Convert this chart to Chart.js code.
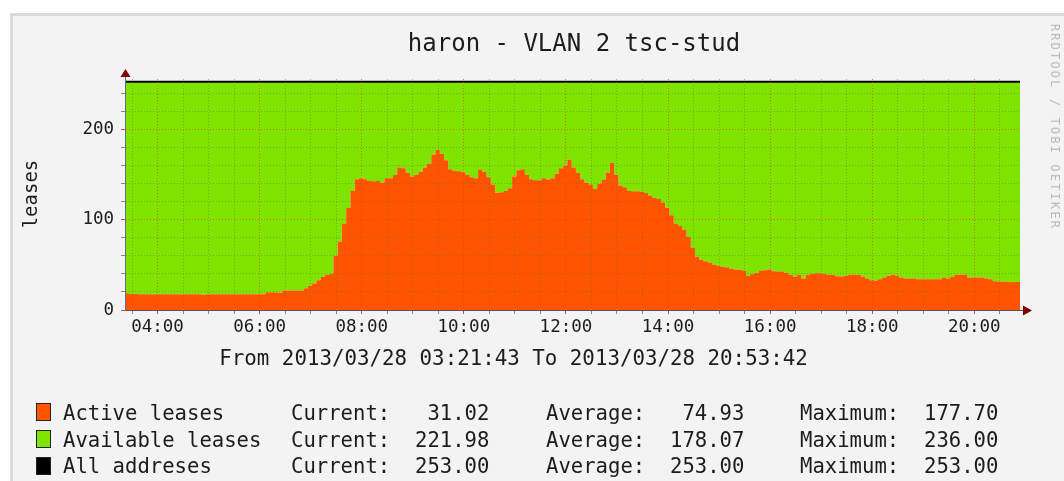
<!DOCTYPE html>
<html>
<head>
<meta charset="utf-8">
<script src="https://cdn.jsdelivr.net/npm/chart.js@4.4.1/dist/chart.umd.min.js"></script>
<style>
html,body{margin:0;padding:0;background:#fff;width:1064px;height:481px;overflow:hidden;}
body{font-family:'DejaVu Sans Mono',monospace;color:#1c1c1c;position:relative;}
#frame{position:absolute;left:10px;top:13px;width:1100px;height:540px;border:3px solid #dadada;background:#f3f3f3;}
#c{position:absolute;left:0;top:0;}
.t{position:absolute;white-space:pre;line-height:1;}
.sq{position:absolute;left:36px;width:13px;height:16px;border:1.5px solid #222;}
</style>
</head>
<body>
<div id="frame"></div>
<canvas id="c" width="1064" height="481"></canvas>
<div class="t" style="font-size:24px;left:574px;top:30.7px;transform:translateX(-50%);">haron - VLAN 2 tsc-stud</div>
<div class="t" style="font-size:19px;left:30px;top:194px;transform:translate(-50%,-50%) rotate(-90deg);">leases</div>
<div class="t" style="font-size:20.8px;left:513.5px;top:348px;transform:translateX(-50%);">From 2013/03/28 03:21:43 To 2013/03/28 20:53:42</div>
<div class="t" style="font-size:12px;letter-spacing:2.15px;color:#b9b9b9;left:1055px;top:127px;transform:translate(-50%,-50%) rotate(90deg);">RRDTOOL / TOBI OETIKER</div>
<div id="legend"></div>
<script>
// ---- data ----
const startTime = '03:21:43';
const endTime = '20:53:42';
const stepMinutes = 5;
const activeLeases = [
  18.6,
  17.6,17.6,17.5,17.5,17.5,17.5,17.5,17.5,17.5,17.5,
  17.5,17.5,17.5,17.5,17.5,17.5,17.5,17.0,17.5,17.5,
  17.5,17.5,17.5,17.5,17.5,17.5,17.5,17.5,17.5,17.5,
  17.5,17.5,
  19.6,19.6,19.6,19.0,21.5,21.5,21.5,21.5,21.5,24,
  27,29.5,33,36.5,39,40,60,76,96,113,
  132,145,146,145,143,142.6,143,141,146,146,
  150,158,157,152,148,150,153,158,162,172,
  177.7,173,166,156,154,153.7,152.6,150,147,146,
  155.6,153,147,139,130,130.5,132,135,148,155,
  156,150,145,143.7,143.7,146,144.5,146,151,157,
  160,166.7,158,152,145,141,139,134,140,144,
  152,163,150,138,136,132,131.5,131.5,131,129.6,
  127,124,123,119,113,105,96,93,89,81,
  69,59,55.6,54,52.6,50.5,49,48,47.5,46,
  45,44.5,43.7,38,40,41,43.7,44,45,43,
  42.6,42.6,41,39,37,39,35,39,40,40.7,
  40.7,40,39,39,37.5,37,38,39,39,39,
  37,35,33,32.6,34,36,38,39,38,36,
  35,35,35,34,34,34,34,34,34,36,
  35,37,39,39,39,36,36,36,36,35,
  34,32,31.5,31.5,31,31,31,31.02
];
const allAddresses = 253;
const yMajorTicks = [0, 100, 200];
const yMinorStep = 20;
const xMajorTickLabels = ['04:00','06:00','08:00','10:00','12:00','14:00','16:00','18:00','20:00'];
const xMinorStepMinutes = 30;

const legendNames = ['Active leases', 'Available leases', 'All addreses'];
const legendCurrent = ['31.02', '221.98', '253.00'];
const legendAverage = ['74.93', '178.07', '253.00'];
const legendMaximum = ['177.70', '236.00', '253.00'];

// ---- styles ----
const ORANGE = '#FF5500';
const GREEN = '#7FE500';
const legendColors = [ORANGE, GREEN, '#000000'];
const MONO = "'DejaVu Sans Mono', monospace";

function toMin(s){ const p = s.split(':').map(Number); return p[0]*60 + p[1] + (p[2]||0)/60; }

const t0 = toMin(startTime), t1 = toMin(endTime);
const activePts = activeLeases.map((v,i)=>({x: t0 + i*stepMinutes, y: v}));
activePts.push({x: t1, y: activeLeases[activeLeases.length-1]});
const allPts = activePts.map(p=>({x: p.x, y: allAddresses}));

const xMajorMin = xMajorTickLabels.map(toMin);
const xTicks = [];
for (let m = Math.ceil(t0/xMinorStepMinutes)*xMinorStepMinutes; m < t1; m += xMinorStepMinutes) xTicks.push({value: m});
const yTicks = [];
for (let v = 0; v <= 240; v += yMinorStep) yTicks.push({value: v});

const MAJOR = 'rgba(255,40,40,0.6)';
const MINOR = 'rgba(90,90,90,0.4)';

// legend (HTML text)
const leg = document.getElementById('legend');
const tops = [403.0, 429.6, 456.0];
const sqTops = [402.5, 429.5, 456.5];
function pad(s, n){ return s.padStart(n, ' '); }
legendNames.forEach((n,i)=>{
  const sq = document.createElement('div'); sq.className='sq';
  sq.style.top = sqTops[i]+'px'; sq.style.background = legendColors[i];
  leg.appendChild(sq);
  const cols = [
    [63, n],
    [291, 'Current:' + pad(legendCurrent[i], 8)],
    [546, 'Average:' + pad(legendAverage[i], 8)],
    [800, 'Maximum:' + pad(legendMaximum[i], 8)]
  ];
  cols.forEach(([x, txt])=>{
    const d = document.createElement('div'); d.className='t';
    d.style.fontSize='20.6px'; d.style.left = x+'px'; d.style.top = tops[i]+'px';
    d.textContent = txt; leg.appendChild(d);
  });
});

const arrows = {
  id: 'arrows',
  afterDraw(chart){
    const {ctx, chartArea: a} = chart;
    ctx.save();
    ctx.strokeStyle = '#555'; ctx.lineWidth = 1;
    ctx.beginPath(); ctx.moveTo(a.right, a.bottom + 0.5); ctx.lineTo(a.right + 5, a.bottom + 0.5); ctx.stroke();
    ctx.strokeStyle = '#6a6a90';
    ctx.beginPath(); ctx.moveTo(a.left + 0.5, a.top); ctx.lineTo(a.left + 0.5, a.top - 3); ctx.stroke();
    ctx.fillStyle = '#7f0000';
    ctx.beginPath(); ctx.moveTo(a.left - 4.5, a.top - 2); ctx.lineTo(a.left + 5.5, a.top - 2); ctx.lineTo(a.left + 0.5, a.top - 10); ctx.closePath(); ctx.fill();
    ctx.beginPath(); ctx.moveTo(a.right + 3, a.bottom - 4.5); ctx.lineTo(a.right + 3, a.bottom + 5.5); ctx.lineTo(a.right + 12, a.bottom + 0.5); ctx.closePath(); ctx.fill();
    ctx.restore();
  }
};

new Chart(document.getElementById('c'), {
  type: 'line',
  data: {
    datasets: [
      {label: legendNames[0], data: activePts, stepped: true, fill: 'origin', backgroundColor: ORANGE,
       borderColor: 'rgba(0,0,0,0)', borderWidth: 0, pointRadius: 0},
      {label: legendNames[2], data: allPts, stepped: true, fill: 0, backgroundColor: GREEN,
       borderColor: '#000', borderWidth: 2, pointRadius: 0}
    ]
  },
  options: {
    responsive: false,
    animation: false,
    devicePixelRatio: 1,
    layout: {padding: {left: 65, right: 44, top: 79, bottom: 131}},
    plugins: {legend: {display: false}, tooltip: {enabled: false}, title: {display: false}},
    scales: {
      x: {
        type: 'linear', min: t0, max: t1,
        afterBuildTicks: s => { s.ticks = xTicks.map(t=>({value: t.value})); },
        afterFit: s => { s.height = 40; },
        ticks: {autoSkip: false, maxRotation: 0, padding: 3, color: '#1c1c1c',
          font: {family: MONO, size: 17.5},
          callback: v => { const i = xMajorMin.indexOf(v); return i >= 0 ? xMajorTickLabels[i] : ''; }},
        grid: {z: 1, lineWidth: 1, tickLength: 4,
          color: c => xMajorMin.includes(c.tick && c.tick.value) ? MAJOR : MINOR,
          tickColor: c => xMajorMin.includes(c.tick && c.tick.value) ? 'rgba(200,30,30,0.8)' : 'rgba(90,90,90,0.7)'},
        border: {z: 2, color: '#555', width: 1, dash: [1, 2]}
      },
      y: {
        type: 'linear', min: 0, max: 256,
        afterBuildTicks: s => { s.ticks = yTicks.map(t=>({value: t.value})); },
        afterFit: s => { s.width = 60; },
        ticks: {autoSkip: false, padding: 7, color: '#1c1c1c',
          font: {family: MONO, size: 17.5},
          callback: v => yMajorTicks.includes(v) ? String(v) : ''},
        grid: {z: 1, lineWidth: 1, tickLength: 4,
          color: c => { const v = c.tick && c.tick.value; return v === 0 ? 'rgba(0,0,0,0)' : (yMajorTicks.includes(v) ? MAJOR : MINOR); },
          tickColor: c => yMajorTicks.includes(c.tick && c.tick.value) ? 'rgba(200,30,30,0.8)' : 'rgba(90,90,90,0.7)'},
        border: {z: 2, color: '#6a6a90', width: 1, dash: [1, 2]}
      }
    }
  },
  plugins: [arrows]
});
</script>
</body>
</html>
